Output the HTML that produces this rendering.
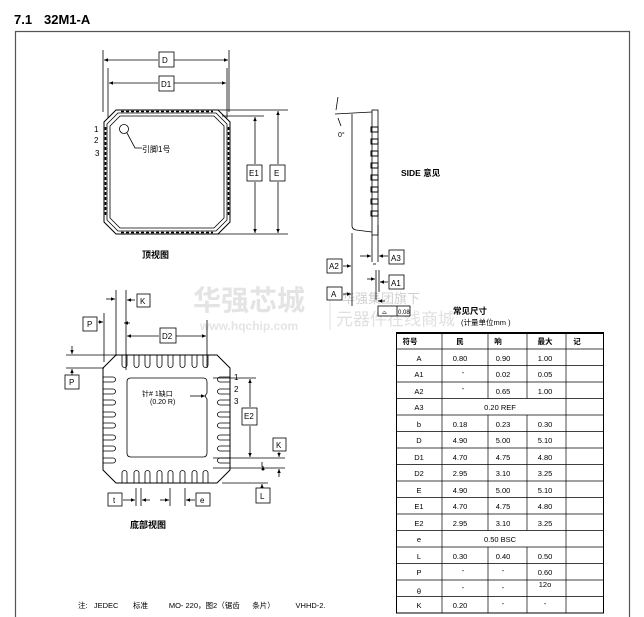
<!DOCTYPE html>
<html><head><meta charset="utf-8"><style>
body{margin:0;background:#fff;width:644px;height:617px;overflow:hidden}
svg{display:block}
text{font-family:"Liberation Sans","Noto Sans CJK SC",sans-serif;fill:#000}
</style></head><body>
<svg width="644" height="617" viewBox="0 0 644 617" xmlns="http://www.w3.org/2000/svg">
<defs>
<marker id="ar" markerWidth="6" markerHeight="6" refX="5" refY="3" orient="auto"><path d="M0,0.8 L5,3 L0,5.2z" fill="#000"/></marker>
<marker id="al" markerWidth="6" markerHeight="6" refX="1" refY="3" orient="auto"><path d="M6,0.8 L1,3 L6,5.2z" fill="#000"/></marker>
</defs>
<text x="14" y="24" font-size="13" font-weight="bold">7.1</text>
<text x="44" y="24" font-size="13" font-weight="bold">32M1-A</text>
<path d="M15.5,617 V31.5 H629.5 V617" fill="none" stroke="#555" stroke-width="1.2"/>

<!-- watermark -->
<g fill="#ddd" opacity="0.9">
<text x="193" y="310" font-size="28" font-weight="bold" style="fill:#e2e2e2">华强芯城</text>
<text x="200" y="330" font-size="12" font-weight="bold" style="fill:#e2e2e2">www.hqchip.com</text>
<text x="342" y="303" font-size="13" style="fill:#ccc">华强集团旗下</text>
<text x="336" y="325" font-size="17" style="fill:#ddd">元器件在线商城</text>
<line x1="330" y1="290" x2="330" y2="330" stroke="#ddd"/>
</g>

<!-- TOP VIEW -->
<g stroke="#000" stroke-width="0.8" fill="none">
<line x1="103" y1="50" x2="103" y2="112"/><line x1="229" y1="50" x2="229" y2="112"/>
<line x1="108" y1="68" x2="108" y2="118"/><line x1="227" y1="68" x2="227" y2="118"/>
<line x1="104" y1="60" x2="158" y2="60" marker-start="url(#al)"/><line x1="174" y1="60" x2="228" y2="60" marker-end="url(#ar)"/>
<line x1="109" y1="83" x2="158" y2="83" marker-start="url(#al)"/><line x1="174" y1="83" x2="226" y2="83" marker-end="url(#ar)"/>
<path d="M116,110 H218 L230,122 V222 L218,234 H116 L104,222 V122 Z" stroke-width="1"/>
<path d="M118,113 H216 L227,124 V220 L216,231 H118 L107,220 V124 Z" stroke-width="0.8"/>
<path d="M120,116 H214 L224,126 V218 L214,228 H120 L110,218 V126 Z" stroke-width="0.8"/>
<line x1="121" y1="111.5" x2="213" y2="111.5" stroke-dasharray="3,2" stroke-width="1.6"/>
<line x1="121" y1="232.5" x2="213" y2="232.5" stroke-dasharray="3,2" stroke-width="1.6"/>
<line x1="105.5" y1="127" x2="105.5" y2="217" stroke-dasharray="3,2" stroke-width="1.6"/>
<line x1="228.5" y1="127" x2="228.5" y2="217" stroke-dasharray="3,2" stroke-width="1.6"/>
<circle cx="124" cy="129" r="4.5"/>
<path d="M127,133 L135,148 H142"/>
<line x1="218" y1="110" x2="288" y2="110"/><line x1="222" y1="116" x2="264" y2="116"/>
<line x1="218" y1="234" x2="288" y2="234"/>
<line x1="278" y1="111" x2="278" y2="164" marker-start="url(#al)"/><line x1="278" y1="182" x2="278" y2="233" marker-end="url(#ar)"/>
<line x1="255" y1="117" x2="255" y2="164" marker-start="url(#al)"/><line x1="255" y1="182" x2="255" y2="233" marker-end="url(#ar)"/>
<rect x="159" y="52" width="15" height="15" fill="#fff"/>
<rect x="159" y="76" width="15" height="15" fill="#fff"/>
<rect x="247" y="165" width="15" height="16" fill="#fff"/>
<rect x="270" y="165" width="15" height="16" fill="#fff"/>
</g>
<g font-size="8">
<text x="162" y="63">D</text><text x="161" y="87">D1</text>
<text x="249" y="176">E1</text><text x="274" y="176">E</text>
<text x="142" y="152">引脚1号</text>
<text x="94" y="132">1</text><text x="94" y="143">2</text><text x="95" y="156">3</text>
</g>
<text x="142" y="258" font-size="9" font-weight="bold">顶视图</text>

<!-- SIDE VIEW -->
<g stroke="#000" stroke-width="0.8" fill="none">
<rect x="372" y="110" width="6" height="125"/>
<path d="M335,114 L372,112 M352,114 V226 Q352,229 356,230 L372,232"/>
<path d="M338,97 L336,110 M338,118 L341,126"/>
<g stroke-width="1">
<rect x="371" y="127" width="7" height="5"/><rect x="371" y="139" width="7" height="5"/><rect x="371" y="151" width="7" height="5"/><rect x="371" y="163" width="7" height="5"/><rect x="371" y="175" width="7" height="5"/><rect x="371" y="187" width="7" height="5"/><rect x="371" y="199" width="7" height="5"/><rect x="371" y="211" width="7" height="5"/>
</g>
<line x1="352" y1="233" x2="352" y2="306"/>
<line x1="372" y1="235" x2="372" y2="262"/><line x1="378" y1="225" x2="378" y2="262"/>
<line x1="376" y1="270" x2="376" y2="300"/><line x1="379" y1="270" x2="379" y2="292"/>
<line x1="343" y1="266" x2="351" y2="266" marker-end="url(#ar)"/>
<line x1="343" y1="294" x2="351" y2="294" marker-end="url(#ar)"/>
<line x1="360" y1="256" x2="371" y2="256" marker-end="url(#ar)"/>
<line x1="388" y1="256" x2="379" y2="256" marker-end="url(#ar)"/>
<line x1="373" y1="264" x2="376" y2="264"/>
<line x1="367" y1="279" x2="375" y2="279" marker-end="url(#ar)"/>
<line x1="388" y1="282" x2="380" y2="282" marker-end="url(#ar)"/>
<line x1="385" y1="301" x2="378" y2="301" marker-end="url(#ar)"/>
<rect x="327" y="259" width="15" height="14" fill="#fff"/>
<rect x="327" y="287" width="15" height="13" fill="#fff"/>
<rect x="389" y="250" width="15" height="14" fill="#fff"/>
<rect x="389" y="275" width="15" height="14" fill="#fff"/>
<rect x="378" y="306" width="32" height="10" fill="#fff"/><line x1="397" y1="306" x2="397" y2="316"/>
</g>
<g font-size="8">
<text x="338" y="137" font-size="7">0°</text>
<text x="329" y="269">A2</text><text x="331" y="297">A</text>
<text x="391" y="261">A3</text><text x="391" y="286">A1</text>
<text x="382" y="314" font-size="6">⌓</text><text x="398" y="314" font-size="6">0.08</text>
<text x="401" y="176" font-size="8.5" font-weight="bold">SIDE  意见</text>
</g>

<!-- BOTTOM VIEW -->
<g stroke="#000" stroke-width="0.8" fill="none">
<path d="M116,355 H217 L230,368 V470 L217,483 H116 L103,470 V368 Z" stroke-width="1"/>
<g stroke-width="0.8">
<path d="M122,355 V365 a2.5,2.5 0 0 0 5,0 V355"/><path d="M134,355 V365 a2.5,2.5 0 0 0 5,0 V355"/><path d="M145,355 V365 a2.5,2.5 0 0 0 5,0 V355"/><path d="M157,355 V365 a2.5,2.5 0 0 0 5,0 V355"/><path d="M168,355 V365 a2.5,2.5 0 0 0 5,0 V355"/><path d="M180,355 V365 a2.5,2.5 0 0 0 5,0 V355"/><path d="M192,355 V365 a2.5,2.5 0 0 0 5,0 V355"/><path d="M203,355 V365 a2.5,2.5 0 0 0 5,0 V355"/>
<path d="M122,483 V473 a2.5,2.5 0 0 1 5,0 V483"/><path d="M134,483 V473 a2.5,2.5 0 0 1 5,0 V483"/><path d="M145,483 V473 a2.5,2.5 0 0 1 5,0 V483"/><path d="M157,483 V473 a2.5,2.5 0 0 1 5,0 V483"/><path d="M168,483 V473 a2.5,2.5 0 0 1 5,0 V483"/><path d="M180,483 V473 a2.5,2.5 0 0 1 5,0 V483"/><path d="M192,483 V473 a2.5,2.5 0 0 1 5,0 V483"/><path d="M203,483 V473 a2.5,2.5 0 0 1 5,0 V483"/>
<path d="M103,377 H113 a2.5,2.5 0 0 1 0,5 H103"/><path d="M103,389 H113 a2.5,2.5 0 0 1 0,5 H103"/><path d="M103,400 H113 a2.5,2.5 0 0 1 0,5 H103"/><path d="M103,412 H113 a2.5,2.5 0 0 1 0,5 H103"/><path d="M103,423 H113 a2.5,2.5 0 0 1 0,5 H103"/><path d="M103,435 H113 a2.5,2.5 0 0 1 0,5 H103"/><path d="M103,446 H113 a2.5,2.5 0 0 1 0,5 H103"/><path d="M103,458 H113 a2.5,2.5 0 0 1 0,5 H103"/>
<path d="M230,377 H220 a2.5,2.5 0 0 0 0,5 H230"/><path d="M230,389 H220 a2.5,2.5 0 0 0 0,5 H230"/><path d="M230,400 H220 a2.5,2.5 0 0 0 0,5 H230"/><path d="M230,412 H220 a2.5,2.5 0 0 0 0,5 H230"/><path d="M230,423 H220 a2.5,2.5 0 0 0 0,5 H230"/><path d="M230,435 H220 a2.5,2.5 0 0 0 0,5 H230"/><path d="M230,446 H220 a2.5,2.5 0 0 0 0,5 H230"/><path d="M230,458 H220 a2.5,2.5 0 0 0 0,5 H230"/>
</g>
<path d="M131,378 H203 Q207,378 207,382 V393 Q204,396 207,399 V453 Q207,457 203,457 H131 Q127,457 127,453 V382 Q127,378 131,378 Z"/>
<line x1="190" y1="396" x2="205" y2="396" marker-end="url(#ar)"/>
<!-- top dims -->
<line x1="116" y1="290" x2="116" y2="356"/><line x1="126" y1="290" x2="126" y2="370"/>
<line x1="104" y1="313" x2="104" y2="362"/>
<line x1="106" y1="299" x2="115" y2="299" marker-end="url(#ar)"/>
<line x1="135" y1="300" x2="127" y2="300" marker-end="url(#ar)"/>
<line x1="98" y1="322" x2="103" y2="322" marker-end="url(#ar)"/>
<line x1="130" y1="323" x2="124" y2="323" marker-end="url(#ar)"/>
<line x1="207" y1="320" x2="207" y2="368"/>
<line x1="127" y1="336" x2="159" y2="336" marker-start="url(#al)"/><line x1="175" y1="336" x2="206" y2="336" marker-end="url(#ar)"/>
<line x1="66" y1="355" x2="116" y2="355"/><line x1="66" y1="368" x2="104" y2="368"/>
<line x1="72" y1="346" x2="72" y2="354" marker-end="url(#ar)"/>
<line x1="72" y1="376" x2="72" y2="369" marker-end="url(#ar)"/>
<!-- right dims -->
<line x1="213" y1="378" x2="256" y2="378"/><line x1="213" y1="458" x2="285" y2="458"/>
<line x1="213" y1="468" x2="285" y2="468"/><line x1="222" y1="483" x2="268" y2="483"/>
<line x1="250" y1="379" x2="250" y2="407" marker-start="url(#al)"/><line x1="250" y1="426" x2="250" y2="457" marker-end="url(#ar)"/>
<line x1="279" y1="452" x2="279" y2="457" marker-end="url(#ar)"/>
<line x1="262" y1="462" x2="262" y2="467"/>
<line x1="263" y1="471" x2="263" y2="466" marker-end="url(#ar)"/>
<line x1="279" y1="477" x2="279" y2="469" marker-end="url(#ar)"/>
<line x1="262" y1="488" x2="262" y2="484" marker-end="url(#ar)"/>
<!-- bottom dims -->
<line x1="136" y1="488" x2="136" y2="506"/><line x1="141" y1="488" x2="141" y2="506"/>
<line x1="170" y1="488" x2="170" y2="506"/><line x1="185" y1="488" x2="185" y2="506"/>
<line x1="123" y1="500" x2="135" y2="500" marker-end="url(#ar)"/>
<line x1="150" y1="500" x2="142" y2="500" marker-end="url(#ar)"/>
<line x1="160" y1="500" x2="169" y2="500" marker-end="url(#ar)"/>
<line x1="195" y1="500" x2="186" y2="500" marker-end="url(#ar)"/>
<rect x="137" y="294" width="13" height="13" fill="#fff"/>
<rect x="83" y="317" width="14" height="14" fill="#fff"/>
<rect x="65" y="375" width="14" height="14" fill="#fff"/>
<rect x="160" y="328" width="16" height="15" fill="#fff"/>
<rect x="242" y="408" width="15" height="17" fill="#fff"/>
<rect x="273" y="438" width="13" height="13" fill="#fff"/>
<rect x="256" y="488" width="14" height="15" fill="#fff"/>
<rect x="108" y="493" width="14" height="13" fill="#fff"/>
<rect x="196" y="493" width="14" height="13" fill="#fff"/>
</g>
<g font-size="8">
<text x="140" y="304">K</text><text x="87" y="327">P</text><text x="69" y="385">P</text>
<text x="162" y="339">D2</text><text x="244" y="419">E2</text>
<text x="276" y="448">K</text><text x="260" y="499">L</text>
<text x="113" y="503">t</text><text x="200" y="503">e</text>
<text x="234" y="380">1</text><text x="234" y="392">2</text><text x="234" y="404">3</text>
<text x="142" y="396" font-size="7">针# 1缺口</text>
<text x="150" y="404" font-size="7">(0.20 R)</text>
</g>
<text x="130" y="528" font-size="9" font-weight="bold">底部视图</text>

<!-- TABLE -->
<text x="453" y="314" font-size="8.5" font-weight="bold">常见尺寸</text>
<text x="461" y="325" font-size="7.5">(计量单位mm )</text>
<g stroke="#000" fill="none">
<rect x="396.5" y="332.5" width="207" height="280.5" stroke-width="1"/>
<line x1="396" y1="333" x2="604" y2="333" stroke-width="2"/>
<g stroke-width="0.7">
<line x1="396" y1="349" x2="604" y2="349"/><line x1="396" y1="365.5" x2="604" y2="365.5"/><line x1="396" y1="382" x2="604" y2="382"/><line x1="396" y1="398.5" x2="604" y2="398.5"/><line x1="396" y1="415" x2="604" y2="415"/><line x1="396" y1="431.5" x2="604" y2="431.5"/><line x1="396" y1="448" x2="604" y2="448"/><line x1="396" y1="464.5" x2="604" y2="464.5"/><line x1="396" y1="481" x2="604" y2="481"/><line x1="396" y1="497.5" x2="604" y2="497.5"/><line x1="396" y1="514" x2="604" y2="514"/><line x1="396" y1="530.5" x2="604" y2="530.5"/><line x1="396" y1="547" x2="604" y2="547"/><line x1="396" y1="563.5" x2="604" y2="563.5"/><line x1="396" y1="580" x2="604" y2="580"/><line x1="396" y1="596.5" x2="604" y2="596.5"/>
<line x1="442" y1="333" x2="442" y2="613"/><line x1="566" y1="333" x2="566" y2="613"/>
<path d="M488,333 V398.5 M527,333 V398.5 M488,415 V530.5 M527,415 V530.5 M488,547 V613 M527,547 V613"/>
</g>
</g>
<g font-size="7.5" text-anchor="middle">
<text x="410" y="344" font-weight="bold">符号</text><text x="460" y="344" font-weight="bold">民</text><text x="498" y="344" font-weight="bold">响</text><text x="545" y="344" font-weight="bold">最大</text><text x="577" y="344" font-weight="bold">记</text>
<text x="419" y="361">A</text><text x="460" y="361">0.80</text><text x="503" y="361">0.90</text><text x="545" y="361">1.00</text>
<text x="419" y="377">A1</text><text x="463" y="375">-</text><text x="503" y="377">0.02</text><text x="545" y="377">0.05</text>
<text x="419" y="394">A2</text><text x="463" y="391">-</text><text x="503" y="394">0.65</text><text x="545" y="394">1.00</text>
<text x="419" y="410">A3</text><text x="500" y="410">0.20 REF</text>
<text x="419" y="427">b</text><text x="460" y="427">0.18</text><text x="503" y="427">0.23</text><text x="545" y="427">0.30</text>
<text x="419" y="443">D</text><text x="460" y="443">4.90</text><text x="503" y="443">5.00</text><text x="545" y="443">5.10</text>
<text x="419" y="460">D1</text><text x="460" y="460">4.70</text><text x="503" y="460">4.75</text><text x="545" y="460">4.80</text>
<text x="419" y="476">D2</text><text x="460" y="476">2.95</text><text x="503" y="476">3.10</text><text x="545" y="476">3.25</text>
<text x="419" y="493">E</text><text x="460" y="493">4.90</text><text x="503" y="493">5.00</text><text x="545" y="493">5.10</text>
<text x="419" y="509">E1</text><text x="460" y="509">4.70</text><text x="503" y="509">4.75</text><text x="545" y="509">4.80</text>
<text x="419" y="526">E2</text><text x="460" y="526">2.95</text><text x="503" y="526">3.10</text><text x="545" y="526">3.25</text>
<text x="419" y="542">e</text><text x="500" y="542">0.50 BSC</text>
<text x="419" y="559">L</text><text x="460" y="559">0.30</text><text x="503" y="559">0.40</text><text x="545" y="559">0.50</text>
<text x="419" y="575">P</text><text x="463" y="573">-</text><text x="503" y="573">-</text><text x="545" y="575">0.60</text>
<text x="419" y="594">θ</text><text x="463" y="590">-</text><text x="503" y="590">-</text><text x="545" y="587">12o</text>
<text x="419" y="608">K</text><text x="460" y="608">0.20</text><text x="503" y="606">-</text><text x="545" y="606">-</text>
</g>

<text x="78" y="608" font-size="7.5" xml:space="preserve">注:   JEDEC       标准          MO- 220，图2（锯齿      条片）          VHHD-2.</text>
</svg>
</body></html>
